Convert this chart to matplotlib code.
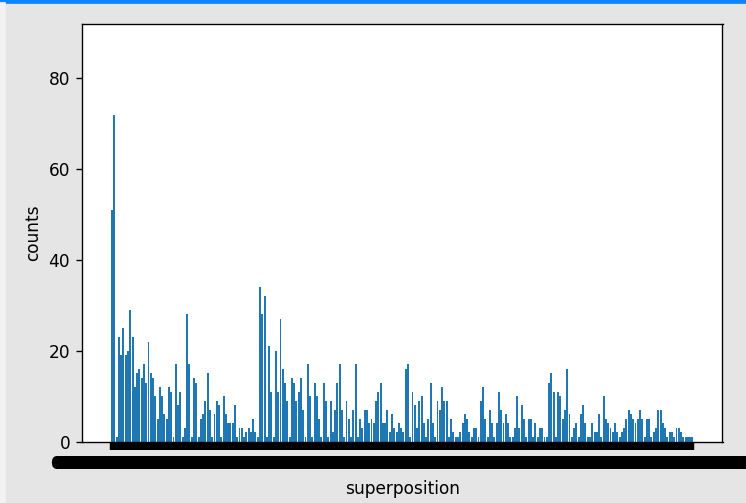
import matplotlib
matplotlib.use("Agg")
import matplotlib.pyplot as plt
from matplotlib.patches import Rectangle

# measured counts per basis state (10-qubit register, observed states only)
counts = [
    51, 72, 1, 23, 19, 25, 19, 20, 29, 23, 12, 15, 16, 14, 17, 13,
    22, 15, 14, 10, 5, 12, 10, 6, 5, 12, 11, 1, 17, 8, 11, 1,
    3, 28, 17, 1, 14, 13, 1, 5, 6, 9, 15, 7, 1, 6, 9, 8,
    1, 10, 6, 4, 4, 4, 8, 1, 3, 3, 1, 2, 3, 2, 5, 2,
    1, 34, 28, 32, 1, 21, 11, 1, 20, 11, 27, 16, 13, 9, 1, 14,
    13, 9, 11, 14, 7, 1, 17, 10, 1, 13, 10, 5, 1, 13, 9, 1,
    9, 2, 7, 13, 17, 7, 1, 9, 5, 1, 7, 17, 1, 5, 3, 7,
    7, 4, 5, 4, 9, 11, 13, 4, 4, 7, 2, 6, 3, 2, 4, 3,
    2, 16, 17, 1, 11, 8, 3, 9, 10, 4, 1, 5, 13, 4, 1, 9,
    7, 12, 9, 9, 1, 5, 2, 1, 1, 2, 4, 6, 5, 2, 1, 3,
    3, 1, 9, 12, 5, 1, 7, 4, 1, 4, 11, 7, 4, 6, 4, 1,
    1, 3, 10, 3, 8, 5, 1, 5, 5, 1, 4, 1, 3, 3, 1, 1,
    13, 15, 11, 1, 11, 10, 5, 7, 16, 6, 1, 3, 4, 1, 6, 8,
    4, 1, 1, 4, 2, 2, 6, 1, 10, 5, 4, 3, 2, 4, 2, 1,
    2, 3, 5, 7, 6, 5, 4, 5, 7, 5, 1, 5, 5, 1, 2, 3,
    7, 7, 4, 3, 1, 2, 2, 1, 3, 3, 2, 1, 1, 1, 1, 1,
]
states = [format(k, "010b") for k in range(len(counts))]

fig = plt.figure(figsize=(746 / 122, 503 / 122), dpi=122, facecolor="#e5e5e5")
fig.add_artist(Rectangle((0, 1 - 3 / 503), 1, 3 / 503, transform=fig.transFigure,
                         color="#0a84ff", zorder=0))
fig.add_artist(Rectangle((0, 0), 5 / 746, 1 - 3 / 503, transform=fig.transFigure,
                         color="#f2f2f2", zorder=0))

ax = fig.add_axes([82 / 746, 61.5 / 503, 640.5 / 746, 417.5 / 503])
ax.bar(states, counts, width=0.85)
ax.set_ylim(0, 92)
ax.set_xlabel("superposition")
ax.set_ylabel("counts")

# every state gets its own tick, so ticks and labels pile up into a band
ax.tick_params(axis="x", width=2.6, length=4.5)
for lbl in ax.get_xticklabels():
    lbl.set_fontweight("bold")
    lbl.set_fontsize(10.5)

fig.savefig("out.png", dpi=122, facecolor=fig.get_facecolor())
